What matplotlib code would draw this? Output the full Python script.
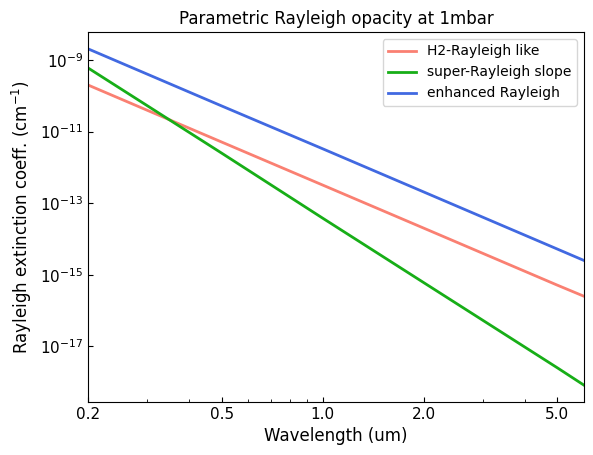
import matplotlib
matplotlib.use("Agg")
import matplotlib.pyplot as plt
from matplotlib.ticker import NullFormatter

wavelength = [0.2, 0.5, 1.0, 2.0, 5.0, 6.0]
h2_rayleigh = [2.0e-10, 5.1e-12, 3.2e-13, 2.0e-14, 5.1e-16, 2.5e-16]
super_rayleigh = [6.0e-10, 2.5e-12, 3.8e-14, 6.0e-16, 2.5e-18, 8.2e-19]
enhanced_rayleigh = [2.05e-9, 5.2e-11, 3.3e-12, 2.05e-13, 5.2e-15, 2.5e-15]

labels = ["H2-Rayleigh like", "super-Rayleigh slope", "enhanced Rayleigh"]
colors = ["salmon", "#17ae17", "royalblue"]
xticks = [0.2, 0.5, 1.0, 2.0, 5.0]
xticklabels = ["0.2", "0.5", "1.0", "2.0", "5.0"]
yticks = [1e-9, 1e-11, 1e-13, 1e-15, 1e-17]

fig = plt.figure(figsize=(5.93, 4.55), dpi=100)
ax = fig.add_axes([88 / 593, 1 - 402 / 455, (584 - 88) / 593, (402 - 32) / 455])

for ys, lab, c in zip([h2_rayleigh, super_rayleigh, enhanced_rayleigh], labels, colors):
    ax.plot(wavelength, ys, color=c, lw=2, label=lab)

ax.set_xscale("log")
ax.set_yscale("log")
ax.set_xlim(wavelength[0], wavelength[-1])
ax.set_xticks(xticks)
ax.set_xticklabels(xticklabels)
ax.set_yticks(yticks)
ax.xaxis.set_minor_formatter(NullFormatter())
ax.yaxis.set_minor_formatter(NullFormatter())
ax.yaxis.set_minor_locator(matplotlib.ticker.NullLocator())
ax.tick_params(which="both", direction="in", labelsize=11)
ax.set_xlabel("Wavelength (um)", fontsize=12)
ax.set_ylabel(r"Rayleigh extinction coeff. (cm$^{-1}$)", fontsize=12)
ax.set_title("Parametric Rayleigh opacity at 1mbar", fontsize=12)
ax.legend(loc="upper right", fontsize=10)

fig.savefig("out.png", dpi=100)
